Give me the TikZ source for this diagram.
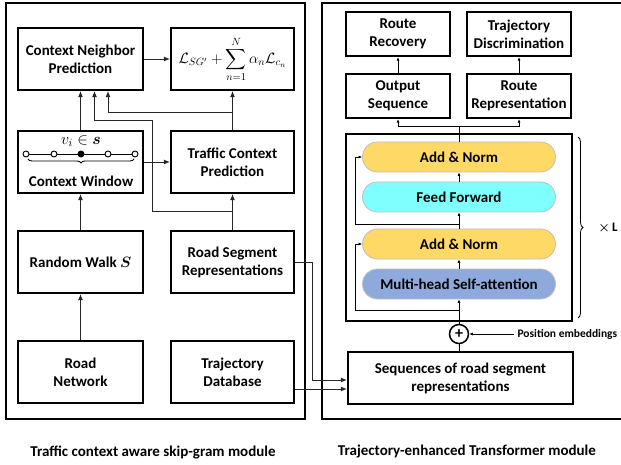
\RequirePackage{fix-cm}
\documentclass[tikz,border=0pt]{standalone}
\usepackage{amsmath}
\usepackage{fontspec}
\setmainfont{Carlito}
\usetikzlibrary{arrows.meta,decorations.pathreplacing}

\definecolor{normyellow}{HTML}{FFD966}
\definecolor{ffcyan}{HTML}{80FFFF}
\definecolor{attblue}{HTML}{8EA9DB}

\tikzset{
  module/.style={line width=1.8pt},
  box/.style={draw,line width=2.2pt,minimum width=125pt,minimum height=62pt,
    align=center,font=\bfseries\fontsize{15}{18}\selectfont},
  rbox/.style={box,minimum width=123pt},
  tbox/.style={box,minimum width=104pt,minimum height=44pt},
  pill/.style={draw=black!25,line width=0.8pt,rounded corners=15pt,
    minimum width=193pt,minimum height=30pt,font=\bfseries\fontsize{15}{18}\selectfont},
  dot/.style={circle,draw,line width=0.9pt,fill=white,inner sep=0pt,minimum size=6pt},
  arr/.style={-{Latex[length=6pt,width=5pt]},line width=0.9pt,black!85},
  tarr/.style={-{Latex[length=3.5pt,width=3pt]},line width=0.8pt},
  caption/.style={font=\bfseries\fontsize{15}{18}\selectfont}
}

\begin{document}
\begin{tikzpicture}[x=1pt,y=-1pt]
    \useasboundingbox (0,0) rectangle (621,465);

    % module frames
    \draw[module] (6,3) rectangle (305,419);
    \draw[module] (322,3) rectangle (630,419);

    % skip-gram module
    \node[box] (cnp) at (80.5,59) {Context Neighbor\\Prediction};
    \node[rbox,font=\fontsize{15}{18}\selectfont] (loss) at (232.5,59) {$\displaystyle \mathcal{L}_{SG'}+\sum_{n=1}^{N}\alpha_n\mathcal{L}_{c_n}$};
    \node[box] (cw) at (80.5,162) {};
    \node[rbox] (tcp) at (232.5,162) {Traffic Context\\Prediction};
    \node[box] (rw) at (80.5,262) {Random Walk $\boldsymbol{S}$};
    \node[rbox] (rsr) at (232.5,262) {Road Segment\\Representations};
    \node[box] (rn) at (80.5,372) {Road\\Network};
    \node[rbox] (tdb) at (232.5,372) {Trajectory\\Database};

    % context window
    \node[font=\fontsize{16}{18}\selectfont] (vi) at (81,141) {$v_i\in\boldsymbol{s}$};
    \foreach \x in {26,54,108,135}
        \node[dot] (d\x) at (\x,154) {};
    \node[dot,fill=black] (d81) at (81,154) {};
    \draw[line width=0.9pt] (d26) -- (d54) -- (d81) -- (d108) -- (d135);
    \draw[line width=0.9pt,decorate,decoration={brace,amplitude=4pt}] (134,159) -- (28,159);
    \node[font=\bfseries\fontsize{15}{18}\selectfont] (cwl) at (81,181) {Context Window};

    % skip-gram arrows
    \draw[arr] (rn) -- (rw);
    \draw[arr] (rw) -- (cw);
    \draw[arr] (cw) -- (cnp);
    \draw[arr] (cw) -- (tcp);
    \draw[arr] (cnp) -- (loss);
    \draw[arr] (rsr) -- (tcp);
    \draw[arr] (tcp) -- (loss);
    \draw[arr] (tcp.north) ++(0,-17) -| ([xshift=27.5pt]cnp.south);
    \draw[arr] (rsr.north) ++(0,-18) -| (152,120) -| ([xshift=14pt]cnp.south);

    % transformer module
    \node[tbox] (rr) at (398,34) {Route\\Recovery};
    \node[tbox] (td) at (519,34) {Trajectory\\Discrimination};
    \node[tbox] (os) at (398,96) {Output\\Sequence};
    \node[tbox] (rrep) at (519,96) {Route\\Representation};
    \draw[line width=2.2pt] (346,134) rectangle (572,321);
    \node[pill,fill=normyellow] (an2) at (459,157) {Add \& Norm};
    \node[pill,fill=ffcyan] (ff) at (459,197) {Feed Forward};
    \node[pill,fill=normyellow] (an1) at (459,244) {Add \& Norm};
    \node[pill,fill=attblue] (mha) at (459,284) {Multi-head Self-attention};
    \node[circle,draw,line width=1.5pt,inner sep=0pt,minimum size=19pt,font=\bfseries\fontsize{16}{16}\selectfont] (plus) at (459,334) {+};
    \node[anchor=west,font=\bfseries\fontsize{11.5}{14}\selectfont] (pos) at (514,334) {Position embeddings};
    \node[box,minimum width=225pt,minimum height=52pt] (seq) at (460.5,378) {Sequences of road segment\\representations};

    % brace
    \draw[line width=0.8pt,decorate,decoration={brace,amplitude=5pt}] (578,137) -- (578,318);
    \node[font=\bfseries\fontsize{13}{15}\selectfont] (xl) at (608,228) {$\boldsymbol{\times}$\,L};

    % transformer arrows
    \draw[line width=0.8pt] (seq) -- (plus);
    \draw[tarr] (pos) -- (plus);
    \draw[tarr] (plus) -- (mha);
    \draw[tarr] (mha) -- (an1);
    \draw[tarr] (an1) -- (ff);
    \draw[tarr] (ff) -- (an2);
    \draw[tarr] (459,310) -| (355,244) -- (an1.west);
    \draw[tarr] (459,224) -| (355,157) -- (an2.west);
    \coordinate (split) at (459,126);
    \draw[line width=0.8pt] (an2) -- (split);
    \draw[tarr] (split) -| (os);
    \draw[tarr] (split) -| (rrep);
    \draw[tarr] (os) -- (rr);
    \draw[tarr] (rrep) -- (td);

    % inputs to transformer
    \draw[arr] (rsr.east) -- (312,262) |- ([yshift=-2pt]seq.west);
    \draw[arr] ([yshift=-17pt]tdb.east) -- ([yshift=-11pt]seq.west);

    % captions
    \node[caption] (cap1) at (153,452) {Traffic context aware skip-gram module};
    \node[caption] (cap2) at (467,452) {Trajectory-enhanced Transformer module};
\end{tikzpicture}
\end{document}
